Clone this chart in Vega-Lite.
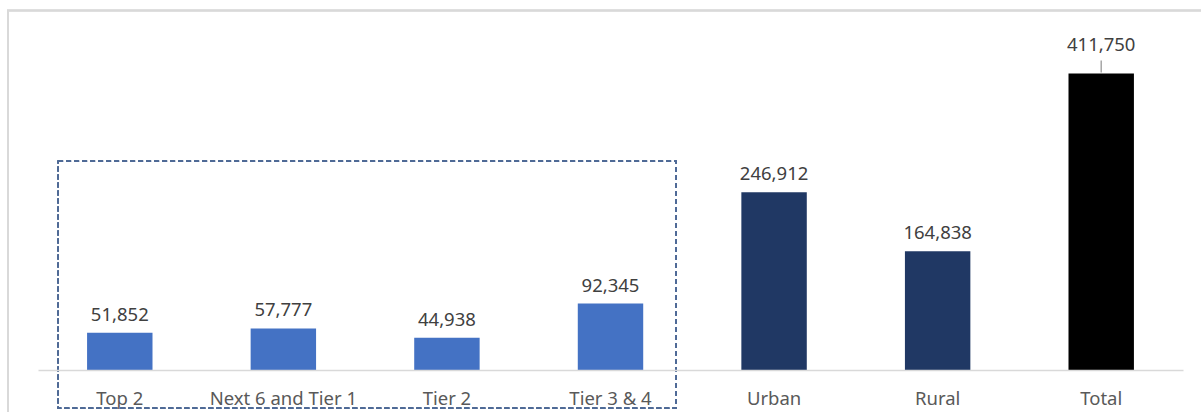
{
  "$schema": "https://vega.github.io/schema/vega-lite/v6.json",
  "width": 1145,
  "height": 360,
  "autosize": {"type": "none"},
  "padding": {"left": 38, "top": 10, "right": 18, "bottom": 42},
  "background": "white",
  "config": {"view": {"stroke": null}, "font": "Noto Sans"},
  "data": {
    "values": [
      {"category": "Top 2", "value": 51852},
      {"category": "Next 6 and Tier 1", "value": 57777},
      {"category": "Tier 2", "value": 44938},
      {"category": "Tier 3 & 4", "value": 92345},
      {"category": "Urban", "value": 246912},
      {"category": "Rural", "value": 164838},
      {"category": "Total", "value": 411750}
    ]
  },
  "layer": [
    {
      "mark": {"type": "rect", "filled": false, "stroke": "#d9d9d9", "strokeWidth": 1.5, "xOffset": -79.3, "x2Offset": 100, "yOffset": 0.5},
      "encoding": {
        "x": {"datum": "Top 2", "type": "nominal", "bandPosition": 0},
        "x2": {"datum": "Total", "bandPosition": 1},
        "y": {"datum": 500000, "type": "quantitative", "scale": {"domain": [0, 500000]}, "axis": null},
        "y2": {"datum": -100000}
      }
    },
    {
      "mark": {"type": "bar"},
      "encoding": {
        "x": {
          "field": "category", "type": "nominal", "sort": null,
          "scale": {"domain": ["Top 2", "Next 6 and Tier 1", "Tier 2", "Tier 3 & 4", "Urban", "Rural", "Total"], "paddingInner": 0.6, "paddingOuter": 0.3},
          "axis": {"title": null, "labelAngle": 0, "labelAlign": "center", "ticks": false, "bandPosition": 0.5, "domainColor": "#d9d9d9", "domainWidth": 1.5, "labelFontSize": 18.5, "labelColor": "#595959", "labelPadding": 28, "labelFont": "Noto Sans"}
        },
        "y": {"field": "value", "type": "quantitative", "scale": {"domain": [0, 500000]}, "axis": null},
        "color": {
          "field": "category", "type": "nominal",
          "scale": {"domain": ["Top 2", "Next 6 and Tier 1", "Tier 2", "Tier 3 & 4", "Urban", "Rural", "Total"], "range": ["#4472C4", "#4472C4", "#4472C4", "#4472C4", "#203864", "#203864", "#000000"]},
          "legend": null
        }
      }
    },
    {
      "transform": [{"filter": "datum.category !== 'Total'"}],
      "mark": {"type": "text", "dy": -12, "baseline": "alphabetic", "fontSize": 18.5, "color": "#404040"},
      "encoding": {
        "x": {"field": "category", "type": "nominal", "sort": null},
        "y": {"field": "value", "type": "quantitative", "axis": null},
        "text": {"field": "value", "type": "quantitative", "format": ","}
      }
    },
    {
      "transform": [{"filter": "datum.category === 'Total'"}],
      "mark": {"type": "text", "dy": -23, "baseline": "alphabetic", "fontSize": 18.5, "color": "#404040"},
      "encoding": {
        "x": {"field": "category", "type": "nominal", "sort": null},
        "y": {"field": "value", "type": "quantitative", "axis": null},
        "text": {"field": "value", "type": "quantitative", "format": ","}
      }
    },
    {
      "transform": [{"filter": "datum.category === 'Total'"}],
      "mark": {"type": "rule", "color": "#a6a6a6", "strokeWidth": 1.5, "yOffset": -1, "y2Offset": -13},
      "encoding": {
        "x": {"field": "category", "type": "nominal", "sort": null},
        "y": {"field": "value", "type": "quantitative", "axis": null},
        "y2": {"field": "value"}
      }
    },
    {
      "mark": {"type": "rect", "filled": false, "stroke": "#4F6A96", "strokeWidth": 1.3, "strokeDash": [5, 3], "xOffset": -29, "x2Offset": 33},
      "encoding": {
        "x": {"datum": "Top 2", "type": "nominal", "bandPosition": 0},
        "x2": {"datum": "Tier 3 & 4", "bandPosition": 1},
        "y": {"datum": 290000, "type": "quantitative", "axis": null},
        "y2": {"datum": -53000}
      }
    }
  ]
}
